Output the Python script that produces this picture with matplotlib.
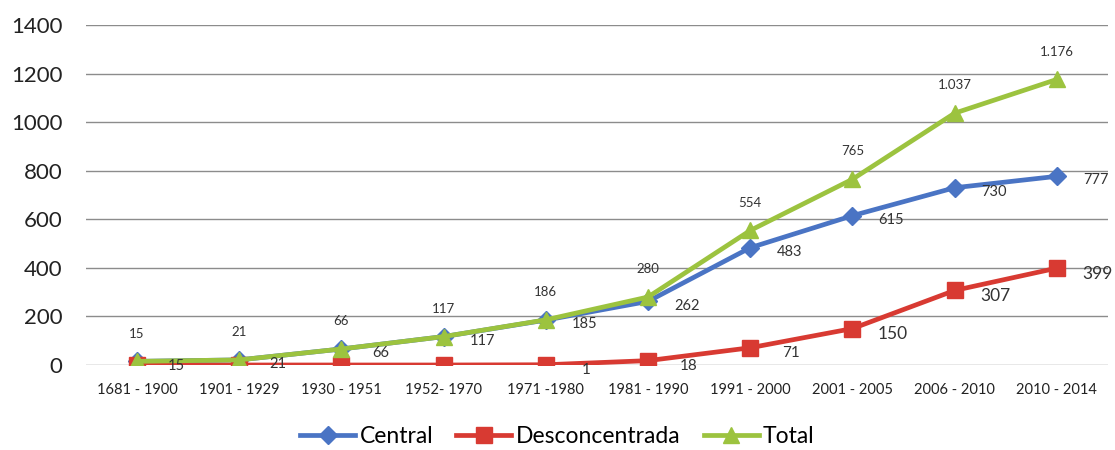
import matplotlib
matplotlib.use('Agg')
import matplotlib.pyplot as plt
from matplotlib.lines import Line2D

plt.rcParams['font.family'] = ['Lato', 'DejaVu Sans']

periodos = ['1681 - 1900', '1901 - 1929', '1930 - 1951', '1952- 1970', '1971 -1980',
            '1981 - 1990', '1991 - 2000', '2001 - 2005', '2006 - 2010', '2010 - 2014']
central = [15, 21, 66, 117, 185, 262, 483, 615, 730, 777]
desconcentrada = [0, 0, 0, 0, 1, 18, 71, 150, 307, 399]
total = [15, 21, 66, 117, 186, 280, 554, 765, 1037, 1176]

c_blue = '#4A74C4'
c_red = '#D83A32'
c_green = '#9CC33F'


def fmt(v):
    # separador de miles con punto
    return '{:,}'.format(v).replace(',', '.')


fig = plt.figure(figsize=(11.15, 4.5), dpi=100)
ax = fig.add_axes([0.0771, 0.1889, 0.9166, 0.7555])

x = list(range(len(periodos)))
ax.plot(x, central, color=c_blue, lw=3.4, marker='D', ms=9, zorder=3)
ax.plot(x, desconcentrada, color=c_red, lw=3.4, marker='s', ms=12, zorder=4)
ax.plot(x, total, color=c_green, lw=3.4, marker='^', ms=12, zorder=5)

for i, v in enumerate(total):
    ax.annotate(fmt(v), (i, v), xytext=(0, 20), textcoords='offset points',
                ha='center', va='center', fontsize=9.5, color='#333333')
for i, v in enumerate(central):
    ax.annotate(fmt(v), (i, v), xytext=(28, -3), textcoords='offset points',
                ha='center', va='center', fontsize=10.5, color='#333333', zorder=6)
for i, v in enumerate(desconcentrada):
    if v == 0:
        continue
    fs = 12.5 if v >= 150 else 11
    ax.annotate(fmt(v), (i, v), xytext=(29, -4), textcoords='offset points',
                ha='center', va='center', fontsize=fs, color='#333333', zorder=6)

ax.set_xlim(-0.5, len(periodos) - 0.5)
ax.set_ylim(0, 1400)
ax.set_yticks(range(0, 1401, 200))
ax.set_xticks(x)
ax.set_xticklabels(periodos, fontsize=10.5, color='#222222')
ax.tick_params(axis='y', labelsize=16, length=0, pad=17, labelcolor='#222222')
ax.tick_params(axis='x', length=0, pad=13)
ax.grid(axis='y', color='#8c8c8c', lw=1)
ax.set_axisbelow(True)
for s in ax.spines.values():
    s.set_visible(False)

handles = [
    Line2D([], [], color=c_blue, lw=3.4, marker='D', ms=9),
    Line2D([], [], color=c_red, lw=3.4, marker='s', ms=12),
    Line2D([], [], color=c_green, lw=3.4, marker='^', ms=12),
]
fig.legend(handles, ['Central', 'Desconcentrada', 'Total'], loc='center',
           bbox_to_anchor=(0.5, 0.03), ncol=3, frameon=False, fontsize=16.5,
           handlelength=2.4, columnspacing=1.0, handletextpad=0.2)

fig.savefig('out.png', dpi=100)
